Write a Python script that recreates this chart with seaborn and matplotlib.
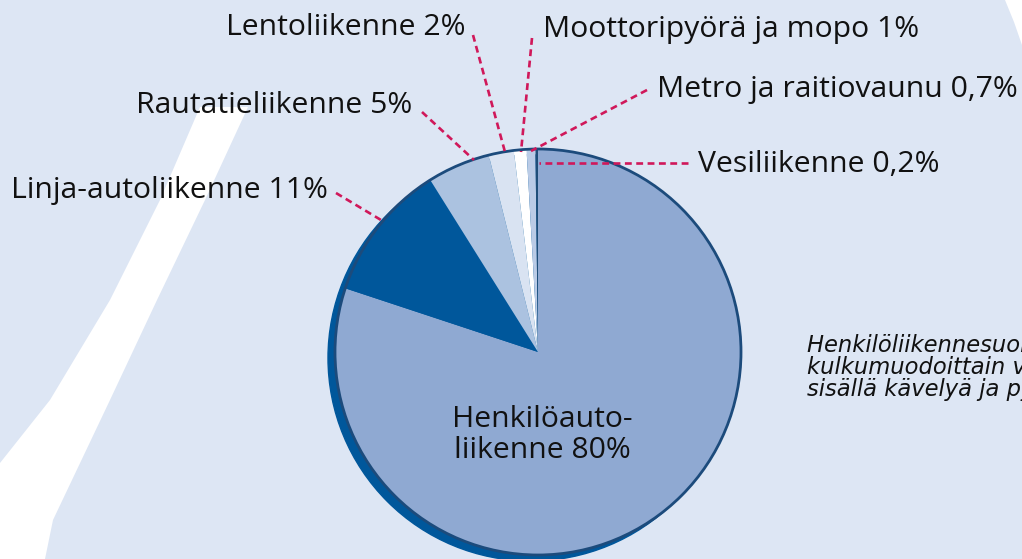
import matplotlib
matplotlib.use("Agg")
import matplotlib.pyplot as plt
from matplotlib.patches import Circle, Polygon
import seaborn as sns

# shares of passenger transport by mode (%)
modes = ["Henkilöauto-\nliikenne 80%", "Linja-autoliikenne 11%", "Rautatieliikenne 5%",
         "Lentoliikenne 2%", "Moottoripyörä ja mopo 1%", "Metro ja raitiovaunu 0,7%",
         "Vesiliikenne 0,2%"]
shares = [80, 11, 5, 2, 1, 0.7, 0.2]
colors = ["#8FA9D2", "#00579B", "#ABC2E0", "#D9E3F2", "#FFFFFF", "#BACBE6", "#1F4E79"]

note = ["Henkilöliikennesuoritteen jakauma",
        "kulkumuodoittain vuonna 2000, ei",
        "sisällä kävelyä ja pyöräilyä"]

sns.set_style("white")
plt.rcParams["font.family"] = ["Open Sans", "DejaVu Sans"]

W, H = 1022, 559
bg = "#DDE6F4"
fig = plt.figure(figsize=(W / 100, H / 100), dpi=100, facecolor=bg)
ax = fig.add_axes([0, 0, 1, 1])
ax.set_facecolor(bg)

def Y(y):
    return H - y

# decorative white stripes
left_edge = [(200, 107), (160, 200), (110, 300), (50, 400), (0, 463)]
right_edge = [(248, 107), (205, 200), (157, 300), (110, 400), (53, 520), (45, 559)]
pts = right_edge + [(0, 559)] + left_edge[::-1]
ax.add_patch(Polygon([(x, Y(y)) for x, y in pts], closed=True, color="white", lw=0, zorder=0))
ax.add_patch(Polygon([(1005, Y(0)), (1022, Y(0)), (1022, Y(45)), (1014, Y(22))],
                     closed=True, color="white", lw=0, zorder=0))

cx, cy, r = 538, Y(352), 203
ax.add_patch(Circle((cx - 7, cy - 6), r, color="#00579B", zorder=1))
wedges, _ = ax.pie(shares, colors=colors, startangle=90, counterclock=False,
                   center=(cx, cy), radius=r, frame=True,
                   wedgeprops=dict(linewidth=0, zorder=2))
ax.add_patch(Circle((cx, cy), r, fill=False, ec="#1C4B7C", lw=2, zorder=3))
ax.set_xlim(0, W)
ax.set_ylim(0, H)
ax.axis("off")

txt = dict(fontsize=21.7, color="#111111", va="baseline", zorder=5)
lead = dict(color="#D0185A", lw=1.9, ls=(0, (2.6, 1.7)), zorder=4)

# (label index, text x, baseline y, ha, leader start, leader end)
labels = [
    (1, 328, 198, "right", (336, 193), (381, 220)),
    (2, 412, 113, "right", (422, 112), (474, 160)),
    (3, 465, 35, "right", (473, 35), (505, 152)),
    (4, 543, 37, "left", (532, 38), (521, 152)),
    (5, 657, 97, "left", (647, 90), (531, 151)),
    (6, 698, 172, "left", (688, 163), (539, 163)),
]
for i, tx, ty, ha, (x0, y0), (x1, y1) in labels:
    ax.text(tx, Y(ty), modes[i], ha=ha, **txt)
    ax.plot([x0, x1], [Y(y0), Y(y1)], **lead)

for k, part in enumerate(modes[0].split("\n")):
    ax.text(542, Y(427 + 31 * k), part, ha="center", **txt)

for k, line in enumerate(note):
    ax.text(807, Y(352 + 22 * k), line, fontsize=16.3, style="italic",
            color="#111111", va="baseline", ha="left", zorder=5,
            family="DejaVu Sans")

fig.savefig("out.png", dpi=100, facecolor=bg)
